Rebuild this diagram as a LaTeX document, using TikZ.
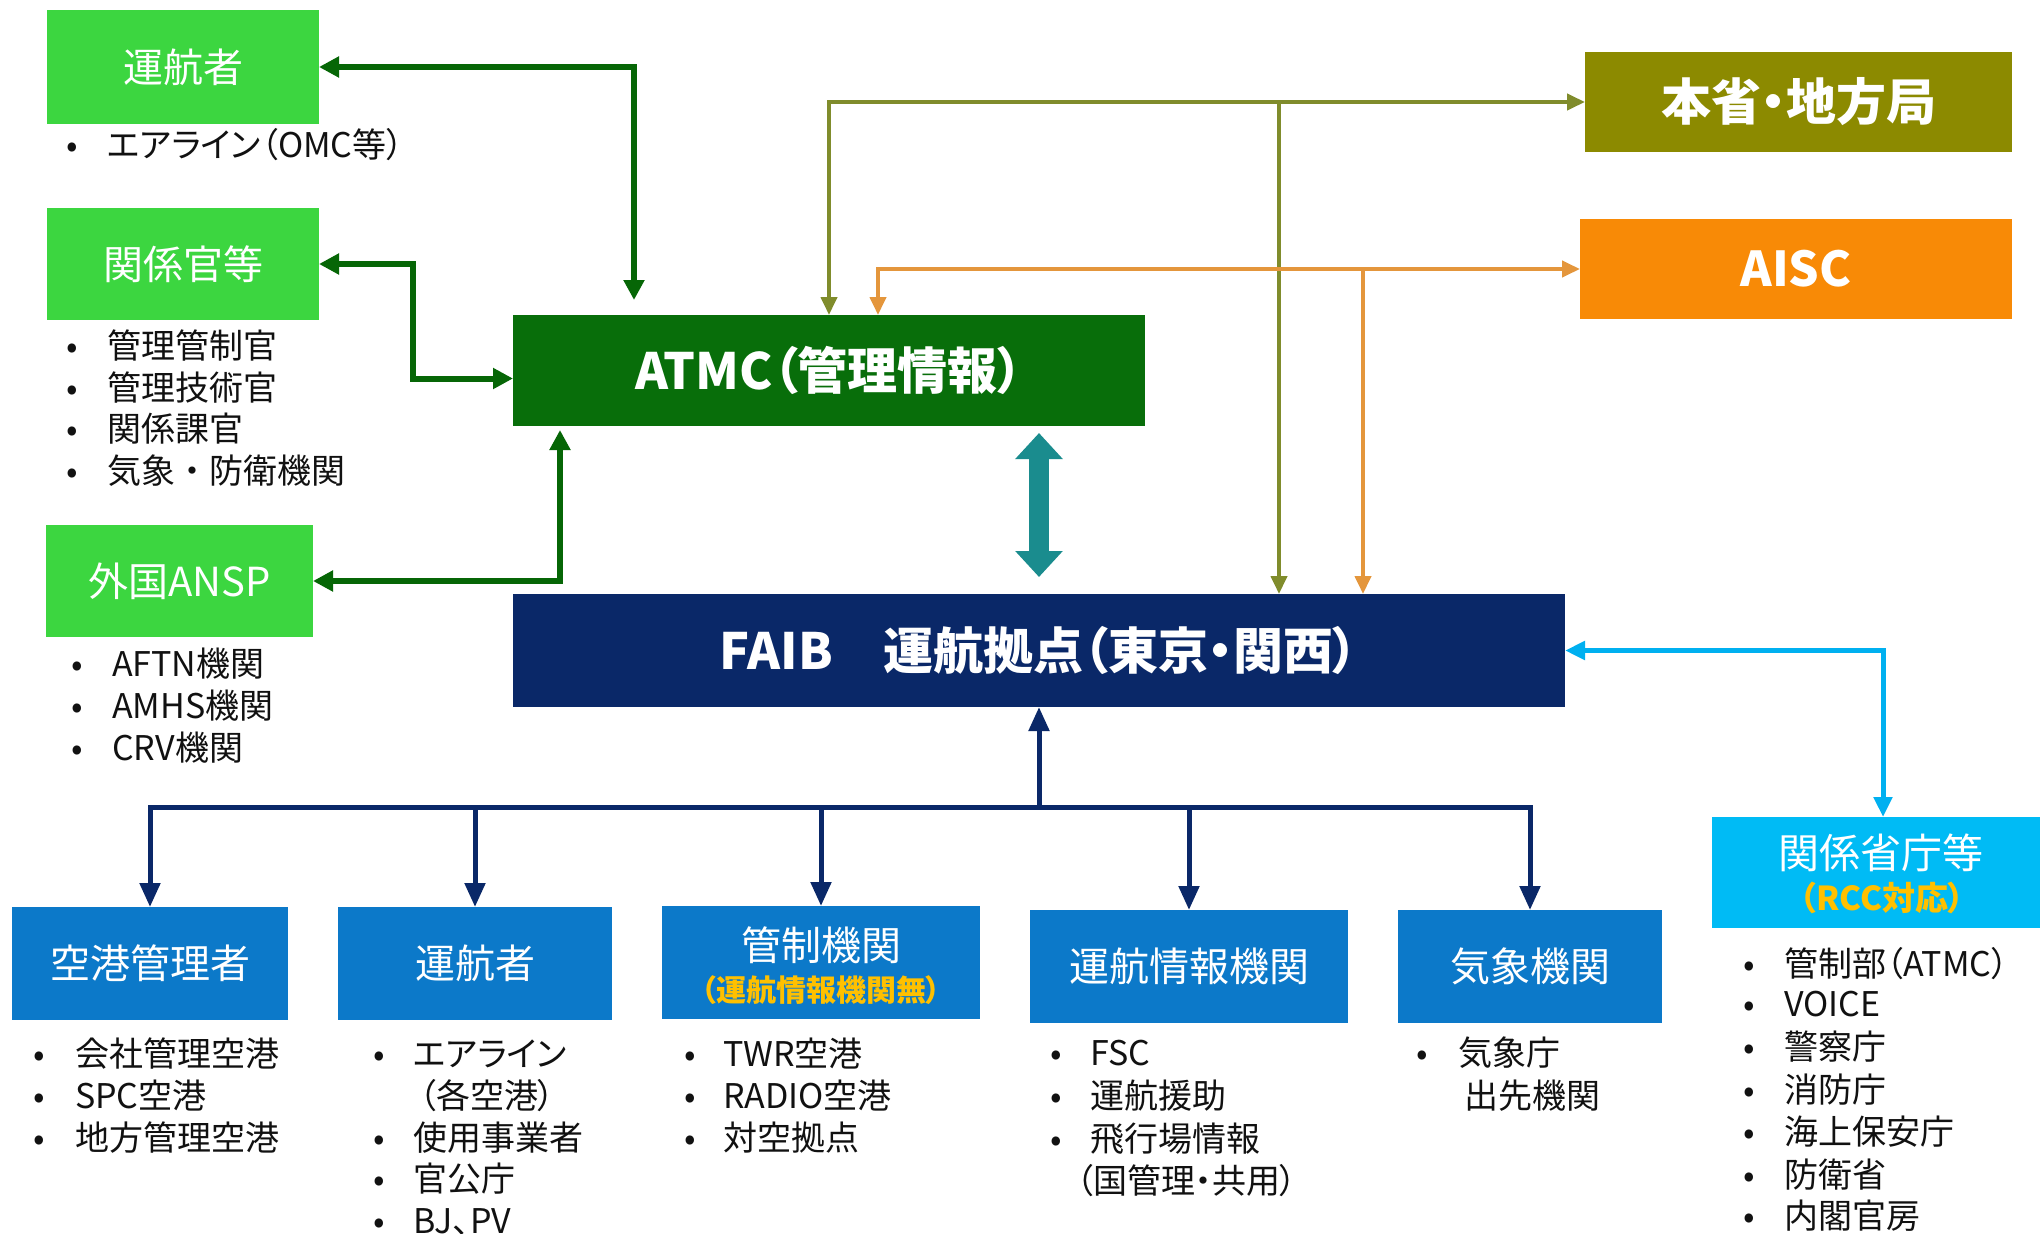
\documentclass[tikz,border=0pt]{standalone}
\usepackage{fontspec}
\setmainfont{Noto Sans CJK JP}[RawFeature=+palt]
\usetikzlibrary{arrows.meta,calc}
\definecolor{lgreen}{RGB}{60,214,64}
\definecolor{dgreen}{RGB}{8,110,10}
\definecolor{garr}{RGB}{6,102,6}
\definecolor{olivebox}{RGB}{140,138,0}
\definecolor{oliveln}{RGB}{128,140,44}
\definecolor{orbox}{RGB}{248,138,6}
\definecolor{orln}{RGB}{228,150,60}
\definecolor{tealc}{RGB}{26,140,142}
\definecolor{navy}{RGB}{10,40,104}
\definecolor{bluebox}{RGB}{12,121,201}
\definecolor{cyanbox}{RGB}{0,187,245}
\definecolor{cyanln}{RGB}{0,176,240}
\definecolor{ylw}{RGB}{255,192,0}
\definecolor{txt}{RGB}{17,17,17}
\newcommand\fs[1]{\fontsize{#1}{#1}\selectfont}
\newcommand\fw[1]{{\addfontfeature{RawFeature=-palt}#1}}
\newcommand\bitem[5]{\node[bul] (#1) at (#2,#3) {\makebox[0pt]{•}\hspace*{#4pt}#5};}
\tikzset{
  box/.style={anchor=north west, inner sep=0pt, outer sep=0pt, text=white, align=center},
  gbox/.style={box, fill=lgreen, font=\fs{40}},
  bbox/.style={box, fill=bluebox, font=\fs{40}, minimum height=113pt},
  bul/.style={anchor=west, inner sep=0pt, text=txt, font=\fs{34}, text height=30pt, text depth=4pt},
  lbl/.style={inner sep=0pt, text=white},
  gline/.style={draw=garr, line width=6pt, >={Triangle[length=20pt,width=20pt]}},
  oline/.style={draw=oliveln, line width=4pt, >={Triangle[length=18pt,width=16pt]}},
  orline/.style={draw=orln, line width=4pt, >={Triangle[length=18pt,width=16pt]}},
  nline/.style={draw=navy, line width=5pt, >={Triangle[length=24pt,width=20pt]}},
  cline/.style={draw=cyanln, line width=5pt, >={Triangle[length=20pt,width=18pt]}},
  tline/.style={draw=tealc, line width=20pt, >={Triangle[length=26pt,width=46pt]}},
}
\begin{document}
\begin{tikzpicture}[x=1pt,y=-1pt]
\useasboundingbox (0,0) rectangle (2040,1234);
\fill[white] (0,0) rectangle (2040,1234);

% left green boxes
\node[gbox, minimum width=272pt, minimum height=114pt] (g1) at (47,10) {運航者};
\node[gbox, minimum width=272pt, minimum height=112pt] (g2) at (47,208) {関係官等};
\node[gbox, minimum width=267pt, minimum height=112pt] (g3) at (46,525) {外国ANSP};

% central boxes
\node[box, fill=dgreen, minimum width=632pt, minimum height=111pt, font=\fs{50}\bfseries] (atmc) at (513,315) {ATMC（管理情報）};
\node[box, fill=navy, minimum width=1052pt, minimum height=113pt, font=\fs{50}\bfseries] (faib) at (513,594) {FAIB　運航拠点（東京・関西）};

% right boxes
\node[box, fill=olivebox, minimum width=427pt, minimum height=100pt, font=\fs{50}\bfseries] (honsho) at (1585,52) {本省・地方局};
\node[box, fill=orbox, minimum width=432pt, minimum height=100pt, font=\fs{48}\bfseries] (aisc) at (1580,219) {AISC};
\node[box, fill=cyanbox, minimum width=342pt, minimum height=111pt] (kankei) at (1712,817) {};
\node[lbl, font=\fs{41}] (kankeit) at (1881,853) {関係省庁等};
\node[lbl, font=\fs{33}\bfseries, text=ylw] (kankeis) at (1882,898) {（RCC対応）};

% bottom boxes
\node[bbox, minimum width=276pt] (b1) at (12,907) {空港管理者};
\node[bbox, minimum width=274pt] (b2) at (338,907) {運航者};
\node[bbox, minimum width=318pt] (b3) at (662,906) {};
\node[lbl, font=\fs{40}] (b3t) at (821,945) {管制機関};
\node[lbl, font=\fs{30}\bfseries, text=ylw] (b3s) at (821,990) {（運航情報機関無）};
\node[bbox, minimum width=318pt] (b4) at (1030,910) {運航情報機関};
\node[bbox, minimum width=264pt] (b5) at (1398,910) {気象機関};

% bullet lists
\bitem{la1}{72}{144}{35}{エアライン（OMC等）}
\bitem{lb1}{72}{345}{35}{管理管制官}
\bitem{lb2}{72}{387}{35}{管理技術官}
\bitem{lb3}{72}{428}{35}{関係課官}
\bitem{lb4}{72}{470}{35}{気象\fw{・}防衛機関}
\bitem{lc1}{77}{663}{35}{AFTN機関}
\bitem{lc2}{77}{705}{35}{AMHS機関}
\bitem{lc3}{77}{747}{35}{CRV機関}
\bitem{ld1}{39}{1053}{36}{会社管理空港}
\bitem{ld2}{39}{1095}{36}{SPC空港}
\bitem{ld3}{39}{1137}{36}{地方管理空港}
\bitem{le1}{379}{1053}{34}{エアライン}
\node[bul] (le2) at (419,1095) {（各空港）};
\bitem{le3}{379}{1137}{34}{使用事業者}
\bitem{le4}{379}{1178}{34}{官公庁}
\bitem{le5}{379}{1220}{34}{BJ、PV}
\bitem{lf1}{690}{1053}{33}{TWR空港}
\bitem{lf2}{690}{1095}{33}{RADIO空港}
\bitem{lf3}{690}{1137}{33}{対空拠点}
\bitem{lg1}{1056}{1052}{34}{FSC}
\bitem{lg2}{1056}{1095}{34}{運航援助}
\bitem{lg3}{1056}{1138}{34}{飛行場情報}
\node[bul] (lg4) at (1076,1180) {（国管理・共用）};
\bitem{lh1}{1422}{1052}{36}{気象庁}
\node[bul] (lh2) at (1464,1095) {出先機関};
\bitem{li1}{1749}{963}{35}{管制部（ATMC）}
\bitem{li2}{1749}{1003}{35}{VOICE}
\bitem{li3}{1749}{1046}{35}{警察庁}
\bitem{li4}{1749}{1089}{35}{消防庁}
\bitem{li5}{1749}{1131}{35}{海上保安庁}
\bitem{li6}{1749}{1174}{35}{防衛省}
\bitem{li7}{1749}{1215}{35}{内閣官房}

% green connectors
\draw[gline,<->] (g1.east) -| ([xshift=121pt,yshift=15pt]atmc.north west);
\draw[gline,<->] (g2.east) -- ++(94,0) |- ([yshift=-8pt]atmc.west);
\draw[gline,<->] (g3.east) -| ([xshift=47pt,yshift=-4pt]atmc.south west);

% teal double arrow
\draw[tline,<->] ([yshift=-7pt]faib.north |- atmc.south) -- ([yshift=17pt]faib.north);

% olive connectors
\coordinate (oj) at (1279,102);
\draw[oline,<->] (atmc.north) |- (honsho.west);
\draw[oline,->] (oj) -- (oj |- faib.north);

% orange connectors
\coordinate (aj) at (1363,269);
\draw[orline,<->] ([xshift=49pt]atmc.north) |- (aisc.west);
\draw[orline,->] (aj) -- (aj |- faib.north);

% cyan connector
\draw[cline,<->] (faib.east) -| (kankei.north);

% navy tree
\coordinate (nj) at ([yshift=-100pt]faib.south);
\draw[nline,->] (nj) -- (faib.south);
\draw[nline,->] (nj) -| (b1.north);
\draw[nline,->] (nj) -| (b2.north);
\draw[nline,->] (nj) -| (b3.north);
\draw[nline,->] (nj) -| (b4.north);
\draw[nline,->] (nj) -| (b5.north);
\end{tikzpicture}
\end{document}
